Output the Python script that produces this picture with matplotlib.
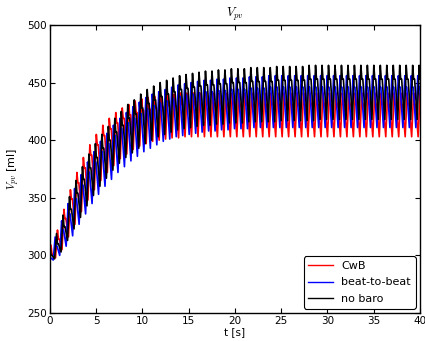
import matplotlib
matplotlib.use('Agg')
import matplotlib.pyplot as plt

# pulmonary venous volume, one trough / peak / plateau per heart beat [ml]
beat_period = 0.70
n_beats = 59

cwb_trough = [294, 298, 305, 316, 327, 338, 348, 357, 365, 372, 378, 384, 388, 392,
              395, 397, 399, 400, 401, 402, 402] + [403] * 38
cwb_peak = [309, 322, 340, 357, 372, 385, 396, 405, 413, 419, 424, 428, 431, 434,
            436, 437, 438, 439, 440, 440] + [441] * 39
cwb_plateau = [301, 314, 332, 349, 363, 376, 387, 396, 404, 410, 415, 419, 422, 424,
               426, 427, 428, 429, 430, 430] + [431] * 39

b2b_trough = [294, 296, 300, 308, 317, 327, 336, 345, 353, 360, 366, 372, 377, 382,
              386, 390, 393, 396, 399, 401, 403, 404, 405, 406, 407, 408, 408, 409,
              409, 410, 410, 410] + [411] * 27
b2b_peak = [306, 316, 330, 345, 358, 370, 381, 390, 399, 406, 413, 419, 424, 429,
            433, 437, 440, 442, 444, 446, 448, 449, 450, 451, 452, 452, 453, 453,
            454, 454, 454, 455, 455, 455] + [456] * 25
b2b_plateau = [298, 308, 322, 336, 349, 361, 372, 381, 390, 397, 404, 410, 415, 419,
               423, 427, 430, 432, 434, 436, 438, 439, 440, 441, 442, 442, 443, 443,
               444, 444, 444, 445, 445, 445] + [446] * 25

nob_trough = [294, 297, 303, 313, 323, 333, 343, 352, 360, 367, 374, 380, 385, 389,
              393, 397, 400, 403, 405, 407, 409, 410, 411, 412, 413, 413, 414, 414,
              415, 415, 415, 416, 416, 416, 416, 416, 417, 417, 417, 417, 417, 417] + [418] * 17
nob_peak = [308, 319, 335, 351, 365, 377, 388, 397, 405, 412, 419, 425, 431, 435,
            440, 444, 447, 450, 452, 454, 456, 457, 458, 459, 460, 460, 461, 461,
            462, 462, 462, 463, 463, 463, 463, 464, 464, 464, 464, 464] + [465] * 19
nob_notch = [300, 310, 325, 340, 354, 366, 376, 385, 393, 400, 407, 413, 419, 423,
             428, 432, 435, 438, 440, 442, 444, 445, 446, 447, 448, 448, 449, 449,
             450, 450, 450, 451, 451, 451, 451, 452, 452, 452, 452, 452] + [453] * 19


def beat_trace(t0, troughs, peaks, plateaus):
    t, v = [], []
    for k in range(n_beats):
        start = t0 + k * beat_period
        t += [start, start + 0.3 * beat_period, start + 0.45 * beat_period, start + 0.6 * beat_period]
        v += [troughs[k], peaks[k], plateaus[k], plateaus[k]]
    return t, v


plt.rcParams['mathtext.fontset'] = 'cm'
plt.rcParams['xtick.direction'] = 'in'
plt.rcParams['ytick.direction'] = 'in'
plt.rcParams['xtick.top'] = True
plt.rcParams['ytick.right'] = True

fig = plt.figure(figsize=(4.25, 3.41), dpi=100)
ax = fig.add_axes([0.1176, 0.0821, 0.8706, 0.8446])

t, v = beat_trace(-0.10, cwb_trough, cwb_peak, cwb_plateau)
ax.plot(t, v, color='red', lw=1.2, label='CwB')
t, v = beat_trace(-0.35, b2b_trough, b2b_peak, b2b_plateau)
ax.plot(t, v, color='blue', lw=1.2, label='beat-to-beat')
t, v = beat_trace(-0.20, nob_trough, nob_peak, nob_notch)
ax.plot(t, v, color='black', lw=1.2, label='no baro')

ax.set_xlim(0, 40)
ax.set_ylim(250, 500)
ax.set_xticks(range(0, 41, 5))
ax.set_yticks(range(250, 501, 50))
ax.tick_params(labelsize=7.5, length=3.5, width=0.8, pad=2)
for s in ax.spines.values():
    s.set_linewidth(1.0)

ax.set_title('$V_{pv}$', fontsize=9, pad=6)
ax.set_xlabel('t [s]', fontsize=7.5, labelpad=1)
ax.set_ylabel('$V_{pv}$ [ml]', fontsize=8, labelpad=4)

leg = ax.legend(loc='lower right', fontsize=8, fancybox=True, framealpha=1,
                handlelength=2.2, borderaxespad=0.4, labelspacing=0.6)
leg.get_frame().set_edgecolor('black')
leg.get_frame().set_linewidth(0.8)
for line in leg.get_lines():
    line.set_linewidth(1.0)

fig.savefig('out.png', dpi=100)
